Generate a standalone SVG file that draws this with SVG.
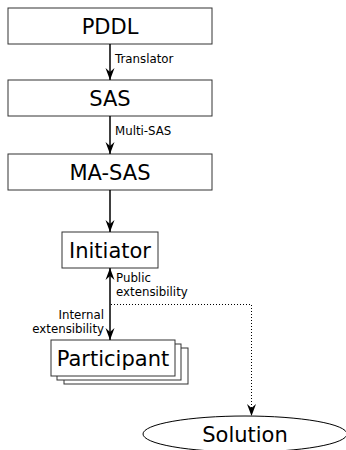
<svg xmlns="http://www.w3.org/2000/svg" width="346" height="450" viewBox="0 0 346 450">
<style>
.box{fill:#fff;stroke:#333;stroke-width:1}
.big{font-family:"DejaVu Sans",sans-serif;font-size:21px;fill:#000;text-anchor:middle}
.small{font-family:"DejaVu Sans",sans-serif;font-size:11.8px;fill:#000}
.conn{fill:none;stroke:#000;stroke-width:1.5}
.dot{fill:none;stroke:#000;stroke-width:1;stroke-dasharray:1,2}
</style>
<defs>
<marker id="ah" markerUnits="userSpaceOnUse" markerWidth="14" markerHeight="12" viewBox="-13 -6 14 12" refX="0" refY="0" orient="auto-start-reverse">
<path d="M0,0 L-12,-4.5 L-8,0 L-12,4.5 Z" fill="#000"/>
</marker>
</defs>
<g id="pddl"><rect class="box" x="8" y="8" width="204" height="36"/><text class="big" x="110" y="34">PDDL</text></g>
<g id="sas"><rect class="box" x="8" y="80" width="204" height="36"/><text class="big" x="110" y="106">SAS</text></g>
<g id="masas"><rect class="box" x="8" y="154" width="204" height="36"/><text class="big" x="110" y="180">MA-SAS</text></g>
<g id="initiator"><rect class="box" x="62" y="232" width="96" height="36"/><text class="big" x="110" y="258">Initiator</text></g>
<g id="participant">
<rect class="box" x="64" y="348" width="124" height="36" stroke="#000"/>
<rect class="box" x="57" y="344" width="124" height="36" stroke="#000"/>
<rect class="box" x="51" y="340" width="124" height="36"/>
<text class="big" x="113" y="366">Participant</text></g>
<g id="solution"><ellipse cx="245" cy="434" rx="102" ry="18" fill="#fff" stroke="#000" stroke-width="1"/><text class="big" x="245" y="442">Solution</text></g>
<g id="connectors">
<line class="conn" x1="110" y1="44" x2="110" y2="80" marker-end="url(#ah)"/>
<text class="small" x="115" y="63">Translator</text>
<line class="conn" x1="110" y1="116" x2="110" y2="154" marker-end="url(#ah)"/>
<text class="small" x="115" y="135">Multi-SAS</text>
<line class="conn" x1="110" y1="190" x2="110" y2="232" marker-end="url(#ah)"/>
<line class="conn" x1="110" y1="268" x2="110" y2="340" marker-start="url(#ah)" marker-end="url(#ah)"/>
<text class="small" x="116" y="282">Public</text>
<text class="small" x="116" y="296">extensibility</text>
<text class="small" x="104" y="319" text-anchor="end">Internal</text>
<text class="small" x="104" y="333" text-anchor="end">extensibility</text>
<path class="dot" d="M111,304.5 H251.5 V416" marker-end="url(#ah)"/>
</g>
</svg>
